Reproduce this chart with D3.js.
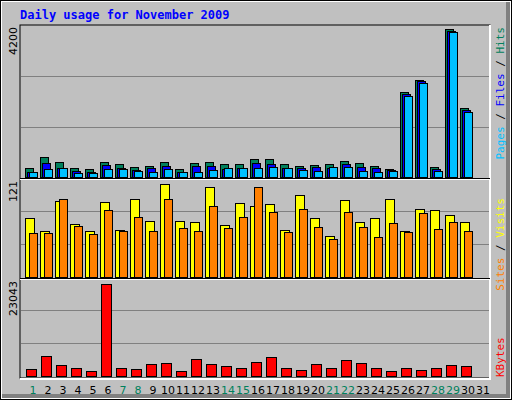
<!DOCTYPE html><html><head><meta charset="utf-8">
<script src="https://cdn.jsdelivr.net/npm/d3@7/dist/d3.min.js"></script>
<style>body{margin:0;background:#fff}</style></head><body>
<script>
const days = d3.range(1,32);
const weekends = [1,7,8,14,15,21,22,28,29];
const hits  = [250,556,417,250,222,417,362,278,306,417,222,389,417,362,362,500,500,362,306,334,362,445,389,306,222,2364,2698,278,4117,1919];
const files = [139,389,250,167,139,334,250,195,250,306,139,306,306,222,250,389,362,250,250,278,250,362,278,250,195,2309,2670,222,4061,1864];
const pages = [139,222,250,111,111,222,222,167,139,222,139,139,195,250,250,250,278,250,195,167,278,278,167,139,167,2253,2615,167,4033,1808];
const visits= [72,56,93,65,56,92,57,95,68,114,68,67,110,64,90,87,89,57,100,72,50,94,67,72,95,56,83,82,76,67];
const sites = [54,54,95,62,53,82,56,73,56,95,60,56,87,60,73,110,79,55,83,61,46,79,61,49,66,55,78,59,67,56];
const kbytes= [1630,4656,2561,1862,1164,21418,1862,1630,2794,3026,1164,3958,2794,2328,1862,3259,4423,1862,1397,2794,1862,3725,3026,1862,1164,1862,1397,1862,2561,2328];
const maxLabels = ["4200","121","23043"];

const W=512,H=400;
const svg=d3.select("body").append("svg").attr("width",W).attr("height",H).style("display","block");
svg.append("rect").attr("width",W).attr("height",H).attr("fill","#000");
svg.append("rect").attr("x",1).attr("y",1).attr("width",W-2).attr("height",H-2).attr("fill","#fff");
svg.append("rect").attr("x",2).attr("y",2).attr("width",W-4).attr("height",H-4).attr("fill","#808080");
svg.append("rect").attr("x",2).attr("y",2).attr("width",W-8).attr("height",H-8).attr("fill","#C0C0C0");

const x=d3.scaleLinear().domain([1,31]).range([25,475]);
const mono="'DejaVu Sans Mono',monospace";
svg.append("text").attr("x",20).attr("y",19).attr("font-family",mono).attr("font-weight","bold")
  .attr("font-size",12).attr("fill","#0000FF").text("Daily usage for November 2009");

// panels
const panels=[{top:26,base:177},{top:178,base:277},{top:277,base:376}];
// frame
svg.append("rect").attr("x",20).attr("y",25).attr("width",221*2+28).attr("height",353).attr("fill","none").attr("stroke","#000");
svg.append("line").attr("x1",490).attr("x2",490).attr("y1",25).attr("y2",379).attr("stroke","#fff").attr("stroke-width",2);
svg.append("line").attr("x1",20).attr("x2",491).attr("y1",379).attr("y2",379).attr("stroke","#fff").attr("stroke-width",2);
[178.5,278.5].forEach(y=>{
  svg.append("line").attr("x1",20).attr("x2",490).attr("y1",y).attr("y2",y).attr("stroke","#000");
  svg.append("line").attr("x1",20).attr("x2",490).attr("y1",y+1).attr("y2",y+1).attr("stroke","#fff");
});
const ys=[
  d3.scaleLinear().domain([0,4200]).range([177,26]),
  d3.scaleLinear().domain([0,121]).range([277,178]),
  d3.scaleLinear().domain([0,23043]).range([376,277])
];
ys.forEach((y,i)=>{
  const m=y.domain()[1];
  [m/3,2*m/3].forEach(v=>svg.append("line").attr("x1",21).attr("x2",489)
    .attr("y1",Math.round(y(v))+.5).attr("y2",Math.round(y(v))+.5).attr("stroke","#808080"));
  svg.append("text").attr("transform",`translate(17,${[27,181,281][i]}) rotate(-90)`)
    .attr("text-anchor","end").attr("font-family","'DejaVu Sans',sans-serif").attr("font-size",11).text(maxLabels[i]);
});
function bars(data,y,off,w,color){
  svg.append("g").selectAll("rect").data(data).join("rect")
    .attr("x",(d,i)=>x(i+1)+off+.5).attr("y",d=>Math.round(y(d))+.5)
    .attr("width",w).attr("height",d=>y(0)-Math.round(y(d)))
    .attr("fill",color).attr("stroke","#000");
}
bars(hits,ys[0],0,8,"#00805C");
bars(files,ys[0],2,8,"#0000FF");
bars(pages,ys[0],4,8,"#00C0FF");
bars(visits,ys[1],0,9,"#FFFF00");
bars(sites,ys[1],4,8,"#FF8000");
bars(kbytes,ys[2],1,10,"#FF0000");

svg.append("g").selectAll("text").data(days).join("text")
  .attr("x",d=>x(d)+8).attr("y",394).attr("text-anchor","middle")
  .attr("font-family","'DejaVu Sans',sans-serif").attr("font-size",11)
  .attr("fill",d=>weekends.includes(d)?"#00805C":"#000").text(d=>d);

function sideLabel(parts,y,anchor){
  const t=svg.append("text").attr("transform",`translate(504,${y}) rotate(-90)`)
    .attr("text-anchor",anchor).attr("font-family",mono).attr("font-size",11);
  parts.forEach(([s,c])=>t.append("tspan").attr("fill",c).text(s));
}
sideLabel([["Pages","#00C0FF"],[" / ","#000"],["Files","#0000FF"],[" / ","#000"],["Hits","#00805C"]],27,"end");
sideLabel([["Sites","#FF8000"],[" / ","#000"],["Visits","#FFFF00"]],198,"end");
sideLabel([["KBytes","#FF0000"]],377,"start");
</script></body></html>
